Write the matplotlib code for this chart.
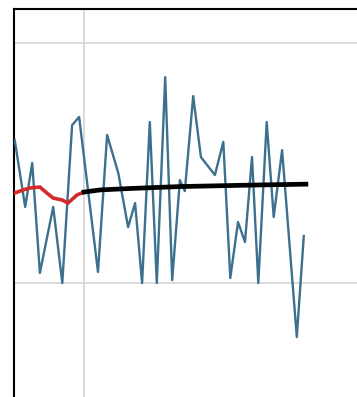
import matplotlib
matplotlib.use("Agg")
import matplotlib.pyplot as plt

# Observed series
obs_x = [0.1, 1.6, 2.6, 3.7, 5.6, 6.9, 8.3, 9.3, 12.0, 13.3, 14.9, 16.3, 17.3, 18.3,
         19.4, 20.4, 21.6, 22.6, 23.7, 24.4, 25.6, 26.7, 28.7, 29.9, 30.9, 32.0,
         33.0, 34.0, 34.9, 36.1, 37.1, 38.3, 40.4, 41.4]
obs_y = [59.6, 31.7, 50.0, 4.2, 31.7, 0.0, 65.8, 69.2, 4.6, 61.7, 45.8, 23.3, 33.3, 0.0,
         67.1, 0.0, 85.8, 1.2, 42.9, 38.3, 77.9, 52.5, 45.0, 58.8, 2.1, 25.4,
         17.1, 52.5, 0.0, 67.1, 27.5, 55.4, -22.5, 19.6]

# Fitted values over the training window
fit_x = [0.1, 1.3, 2.3, 3.7, 4.7, 5.6, 6.9, 7.7, 9.0, 10.0]
fit_y = [37.5, 38.8, 39.6, 40.0, 37.5, 35.4, 34.6, 33.3, 36.7, 37.9]

# Forecast beyond the split
fc_x = [10.0, 12.3, 16.6, 23.7, 33.7, 41.7]
fc_y = [37.9, 38.8, 39.4, 40.2, 40.8, 41.2]

x_ticks = [10, 50]
y_ticks = [-100, 0, 100, 200]

W, H = 357, 397
fig = plt.figure(figsize=(W / 100, H / 100), dpi=100)
fig.patch.set_facecolor("white")

left_px, top_px, right_px, bottom_px = 14, 9, 364, 403
ax = fig.add_axes([left_px / W, 1 - bottom_px / H,
                   (right_px - left_px) / W, (bottom_px - top_px) / H])

ax.plot(obs_x, obs_y, color="#3d6f8f", lw=1.7, zorder=3)
ax.plot(fit_x, fit_y, color="#d42a2a", lw=2.6, zorder=4)
ax.plot(fc_x, fc_y, color="black", lw=3.4, zorder=5)

ax.set_xticks(x_ticks)
ax.set_yticks(y_ticks)
ax.set_xlim(0, 50)
ax.set_ylim(-50, 114.2)
ax.tick_params(length=0, labelbottom=False, labelleft=False)
ax.grid(True, color="#d8d8d8", lw=1.3, zorder=0)
ax.set_axisbelow(True)

for side in ("left", "top", "right", "bottom"):
    ax.spines[side].set_color("black")
    ax.spines[side].set_linewidth(1.5)

fig.savefig("out.png", dpi=100, facecolor="white")
